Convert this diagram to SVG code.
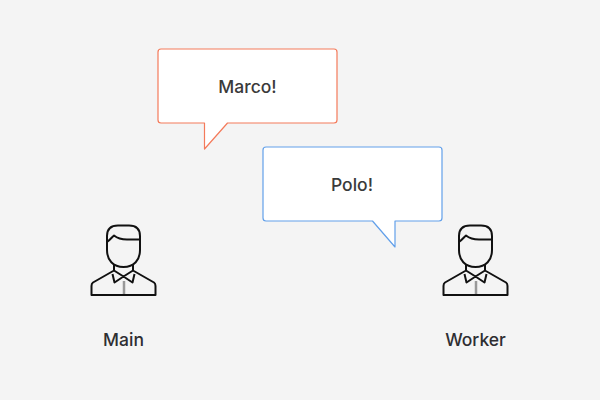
<svg xmlns="http://www.w3.org/2000/svg" width="600" height="400" viewBox="0 0 600 400">
<style>
.bg{fill:#f4f4f4}
.bubble{fill:#fff;stroke-width:1.2;stroke-linejoin:round}
.t{font-family:Inter,"Liberation Sans",sans-serif;font-size:17.500px;font-weight:500;fill:#3a3a3a;text-anchor:middle}
.l{font-family:Inter,"Liberation Sans",sans-serif;font-size:17.500px;font-weight:500;fill:#2e2e32;text-anchor:middle}
.ic{fill:none;stroke:#111;stroke-width:2;stroke-linejoin:round;stroke-linecap:butt}
.tie{fill:none;stroke:#999;stroke-width:2.500}
</style>
<defs>
<g id="person">
<path class="ic" d="M107 242V236Q107 225.500 118 225.500H129Q140 225.500 140 236V250C140 260 134 267 123.500 267C113 267 107 260 107 250Z"/>
<path class="ic" d="M107 242C110 240 112 237 114 235.500C117 238 121 239.500 127 239.500H140"/>
<path class="ic" d="M114 265V270.500L93 282.500Q91.500 283.500 91.500 286V295H155.500V286Q155.500 283.500 154 282.500L133 270.500V265"/>
<path class="ic" d="M114 270.500L123.500 276.500L133 270.500M123.500 276.500L114.500 282.500L112.500 274M123.500 276.500L132.500 282.500L134.500 274"/>
<path class="tie" d="M124 281V294"/>
</g>
</defs>
<rect class="bg" width="600" height="400"/>
<g id="connectors"/>
<g id="marco">
<path class="bubble" stroke="#f47a5a" d="M161 49H334Q337 49 337 52V120Q337 123 334 123H227.500L204.500 149V123H161Q158 123 158 120V52Q158 49 161 49Z"/>
<text class="t" x="247.500" y="93">Marco!</text>
</g>
<g id="polo">
<path class="bubble" stroke="#62a0ea" d="M266 147H439Q442 147 442 150V218Q442 221 439 221H395V247L372.500 221H266Q263 221 263 218V150Q263 147 266 147Z"/>
<text class="t" x="352" y="191">Polo!</text>
</g>
<g id="main">
<use href="#person"/>
<text class="l" x="123.500" y="346">Main</text>
</g>
<g id="worker">
<use href="#person" x="352"/>
<text class="l" x="475.500" y="346">Worker</text>
</g>
</svg>
